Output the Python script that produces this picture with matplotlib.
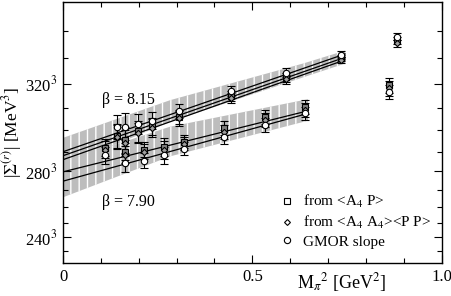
import numpy as np
import matplotlib
matplotlib.use("Agg")
import matplotlib.pyplot as plt
from matplotlib.lines import Line2D

plt.rcParams["font.family"] = "serif"
plt.rcParams["font.serif"] = ["Liberation Serif", "DejaVu Serif"]
plt.rcParams["mathtext.fontset"] = "stix"
plt.rcParams["hatch.linewidth"] = 1.0

# M_pi^2 [GeV^2] ; |Sigma| in units of 10^6 MeV^3
x_815 = [0.111, 0.142, 0.164, 0.199, 0.234, 0.306, 0.443, 0.589, 0.733, 0.881]
sq_815 = [24.86, 26.33, 25.84, 26.88, 27.49, 28.65, 31.22, 33.54, 35.95, 38.06]
di_815 = [24.62, 26.14, 25.47, 26.69, 27.30, 28.47, 30.97, 33.29, 35.70, 37.73]
ci_815 = [23.92, 27.46, 27.46, 27.79, 28.20, 29.38, 31.83, 34.11, 36.35, 38.55]
err_815 = [1.06, 1.48, 1.63, 1.28, 1.08, 0.89, 0.59, 0.57, 0.39, 0.41]

x_790 = [0.164, 0.215, 0.267, 0.320, 0.425, 0.533, 0.639, 0.862]
sq_790 = [24.37, 24.62, 24.98, 25.59, 27.30, 28.65, 29.87, 32.56]
di_790 = [24.00, 24.37, 24.62, 25.35, 26.82, 28.28, 29.50, 32.19]
ci_790 = [22.99, 23.27, 23.92, 24.74, 26.24, 27.67, 29.10, 31.74]
err_790 = [1.08, 0.95, 1.09, 0.79, 0.87, 0.86, 0.84, 0.92]

# linear chiral fits: (value at 0, value at end of fit range)
fit_815_end = 0.745
fit_815 = [(24.37, 36.43), (23.88, 36.02), (23.39, 35.70)]
fit_790_end = 0.647
fit_790 = [(21.89, 29.42), (20.74, 29.10)]

# error bands of the fits
band_815_x = [0.0, 0.283, 0.634, 0.745]
band_815_hi = [26.08, 30.73, 35.25, 36.84]
band_815_lo = [22.55, 28.07, 33.54, 35.25]
band_790_x = [0.0, 0.283, 0.647]
band_790_hi = [23.15, 27.46, 30.85]
band_790_lo = [18.75, 23.80, 28.20]

major_roots = [240, 280, 320]
minor_roots = list(range(230, 350, 10))

fig = plt.figure(figsize=(4.52, 2.96), dpi=100)
ax = fig.add_axes([0.1394, 0.1115, 0.8378, 0.8828])

for bx, hi, lo in [(band_815_x, band_815_hi, band_815_lo), (band_790_x, band_790_hi, band_790_lo)]:
    ax.fill_between(bx, lo, hi, facecolor="#bdbdbd", edgecolor="white", hatch="||", linewidth=0, zorder=1)

for xe, fits in [(fit_815_end, fit_815), (fit_790_end, fit_790)]:
    for a, b in fits:
        ax.plot([0, xe], [a, b], color="black", lw=0.9, zorder=2)

ebkw = dict(ecolor="black", elinewidth=0.8, capsize=2.6, capthick=0.8, mec="black", mew=0.8, ls="none", zorder=3)
for xs, sq, di, ci, er in [(x_815, sq_815, di_815, ci_815, err_815), (x_790, sq_790, di_790, ci_790, err_790)]:
    ax.errorbar(xs, sq, yerr=er, fmt="s", ms=4.0, mfc="#808080", **ebkw)
    ax.errorbar(xs, di, yerr=er, fmt="D", ms=3.2, mfc="#a0a0a0", **ebkw)
    ax.errorbar(xs, ci, yerr=er, fmt="o", ms=4.6, mfc="white", **ebkw)

ax.set_xlim(0, 1.0)
ax.set_ylim(220**3 / 1e6, 350**3 / 1e6)
ax.set_xticks([0, 0.5, 1.0])
ax.set_xticklabels(["0", "0.5", "1.0"])
ax.set_xticks(np.arange(0.1, 1.0, 0.1), minor=True)
ax.set_yticks([r**3 / 1e6 for r in major_roots])
ax.set_yticklabels([f"{r}$^3$" for r in major_roots])
ax.set_yticks([r**3 / 1e6 for r in minor_roots if r not in major_roots], minor=True)
ax.tick_params(which="both", direction="in", top=True, right=True, labelsize=12, width=0.8, pad=4)
ax.tick_params(which="major", length=6)
ax.tick_params(which="minor", length=3.5)
for s in ax.spines.values():
    s.set_linewidth(1.0)

ax.set_ylabel(r"|$\Sigma^{(r)}$| [MeV$^3$]", fontsize=12.5, labelpad=1)
ax.set_xlabel(r"M$_{\pi}{}^{2}$ [GeV$^2$]", fontsize=13, labelpad=0)
ax.xaxis.set_label_coords(0.737, -0.03)

ax.text(0.103, 30.73, "β = 8.15", fontsize=11.5, va="center", ha="left")
ax.text(0.103, 18.14, "β = 7.90", fontsize=11.5, va="center", ha="left")

handles = [
    Line2D([], [], marker="s", ms=4, mfc="white", mec="black", mew=0.8, ls="none"),
    Line2D([], [], marker="D", ms=3, mfc="white", mec="black", mew=0.8, ls="none"),
    Line2D([], [], marker="o", ms=4.5, mfc="white", mec="black", mew=0.8, ls="none"),
]
labels = [r"from <A$_4$ P>", r"from <A$_4$ A$_4$><P P>", "GMOR slope"]
ax.legend(handles, labels, loc="upper left", bbox_to_anchor=(0.556, 0.297), frameon=False,
          fontsize=11, handlelength=0.8, handletextpad=0.6, labelspacing=0.25, borderpad=0)

fig.savefig("out.png", dpi=100)
